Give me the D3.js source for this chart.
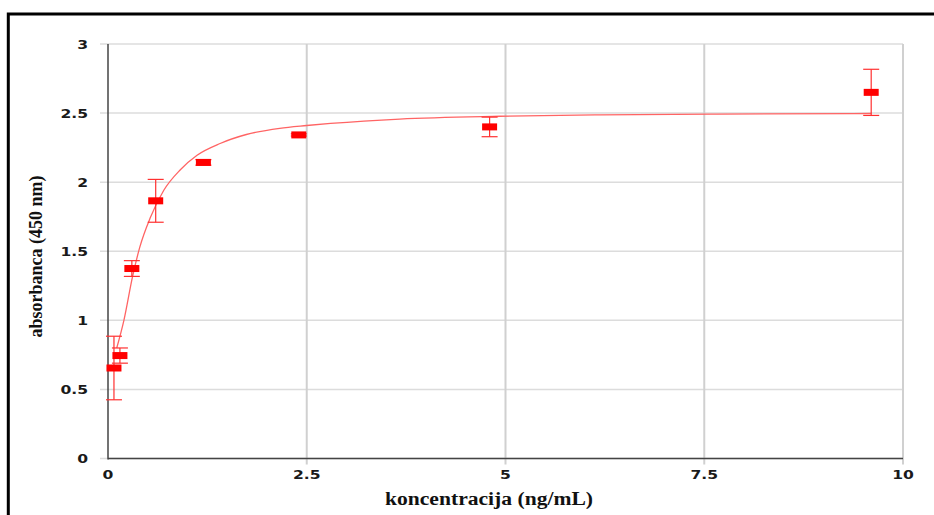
<!DOCTYPE html>
<html>
<head>
<meta charset="utf-8">
<script src="https://cdn.jsdelivr.net/npm/d3@7"></script>
<style>
  body { margin: 0; background: #fff; }
  svg { display: block; }
</style>
</head>
<body>
<div id="chart"></div>
<script>
// concentration series (serial dilution) and measured absorbance
const conc = [0.075, 0.15, 0.3, 0.6, 1.2, 2.4, 4.8, 9.6];
const absorb = [0.655, 0.745, 1.375, 1.865, 2.143, 2.342, 2.40, 2.65];
const errs = [0.23, 0.055, 0.057, 0.155, 0.02, 0.008, 0.071, 0.167];

// fitted curve, points
const curveX = [0.11, 0.2, 0.31, 0.4, 0.53, 0.7, 0.91, 1.12, 1.41, 1.74, 2.16, 2.5, 2.8, 3.67, 4.93, 6.19, 7.66, 9.6];
const curveY = [0.80, 1.00, 1.32, 1.53, 1.74, 1.94, 2.09, 2.195, 2.28, 2.345, 2.39, 2.41, 2.425, 2.457, 2.477, 2.487, 2.493, 2.497];

const xTicks = [0, 2.5, 5, 7.5, 10];
const yTicks = [0, 0.5, 1, 1.5, 2, 2.5, 3];

const width = 934;
const height = 515;
const plot = { left: 108, right: 903, top: 44, bottom: 458.5 };

const svg = d3.select("#chart")
    .append("svg")
    .attr("width", width)
    .attr("height", height);

svg.append("rect")
    .attr("width", width)
    .attr("height", height)
    .attr("fill", "#fff");

// outer black frame
svg.append("rect")
    .attr("x", 8.3)
    .attr("y", 14)
    .attr("width", 950)
    .attr("height", 520)
    .attr("fill", "none")
    .attr("stroke", "#000")
    .attr("stroke-width", 3);

const x = d3.scaleLinear().domain([0, 10]).range([plot.left, plot.right]);
const y = d3.scaleLinear().domain([0, 3]).range([plot.bottom, plot.top]);

// gridlines
svg.append("g")
    .selectAll("line")
    .data(yTicks)
    .join("line")
    .attr("x1", plot.left - 8)
    .attr("x2", plot.right)
    .attr("y1", d => y(d))
    .attr("y2", d => y(d))
    .attr("stroke", "#dcdcdc")
    .attr("stroke-width", 1.5);

svg.append("g")
    .selectAll("line")
    .data(xTicks.slice(1))
    .join("line")
    .attr("x1", d => x(d))
    .attr("x2", d => x(d))
    .attr("y1", plot.top)
    .attr("y2", plot.bottom + 6)
    .attr("stroke", "#d0d0d0")
    .attr("stroke-width", 2);

// axes lines
svg.append("line")
    .attr("x1", plot.left).attr("x2", plot.left)
    .attr("y1", plot.top).attr("y2", plot.bottom + 1)
    .attr("stroke", "#444").attr("stroke-width", 1.5);

svg.append("line")
    .attr("x1", plot.left).attr("x2", plot.right)
    .attr("y1", plot.bottom).attr("y2", plot.bottom)
    .attr("stroke", "#444").attr("stroke-width", 1.5);

// tick labels (stretched wide like the original)
const tickFont = "'DejaVu Sans', Verdana, sans-serif";

svg.append("g")
    .selectAll("text")
    .data(yTicks)
    .join("text")
    .attr("transform", d => `translate(88, ${y(d) + 4.5}) scale(1.3,1)`)
    .attr("text-anchor", "end")
    .attr("font-family", tickFont)
    .attr("font-weight", "bold")
    .attr("font-size", 12)
    .attr("fill", "#1a1a1a")
    .text(d => d);

svg.append("g")
    .selectAll("text")
    .data(xTicks)
    .join("text")
    .attr("transform", d => `translate(${x(d)}, 478.5) scale(1.3,1)`)
    .attr("text-anchor", "middle")
    .attr("font-family", tickFont)
    .attr("font-weight", "bold")
    .attr("font-size", 12)
    .attr("fill", "#1a1a1a")
    .text(d => d);

// axis titles
svg.append("text")
    .attr("x", 385)
    .attr("y", 505)
    .attr("font-family", "'Liberation Serif', 'Times New Roman', serif")
    .attr("font-weight", "bold")
    .attr("font-size", 18)
    .attr("textLength", 208)
    .attr("lengthAdjust", "spacingAndGlyphs")
    .attr("fill", "#111")
    .text("koncentracija (ng/mL)");

svg.append("text")
    .attr("transform", "translate(42, 256.5) rotate(-90)")
    .attr("text-anchor", "middle")
    .attr("font-family", "'Liberation Serif', 'Times New Roman', serif")
    .attr("font-weight", "bold")
    .attr("font-size", 18)
    .attr("fill", "#111")
    .text("absorbanca (450 nm)");

// fitted curve
const line = d3.line()
    .x(d => x(d[0]))
    .y(d => y(d[1]))
    .curve(d3.curveMonotoneX);

svg.append("path")
    .datum(d3.zip(curveX, curveY))
    .attr("d", line)
    .attr("fill", "none")
    .attr("stroke", "#ff6464")
    .attr("stroke-width", 1.3);

// error bars
const pts = conc.map((c, i) => ({ c, a: absorb[i], e: errs[i] }));

const eb = svg.append("g")
    .attr("stroke", "#ff3030")
    .attr("stroke-width", 1.2);

eb.selectAll(".stem")
    .data(pts)
    .join("line")
    .attr("x1", d => x(d.c)).attr("x2", d => x(d.c))
    .attr("y1", d => y(d.a + d.e)).attr("y2", d => y(d.a - d.e));

eb.selectAll(".capTop")
    .data(pts)
    .join("line")
    .attr("class", "capTop")
    .attr("x1", d => x(d.c) - 8).attr("x2", d => x(d.c) + 8)
    .attr("y1", d => y(d.a + d.e)).attr("y2", d => y(d.a + d.e));

eb.selectAll(".capBot")
    .data(pts)
    .join("line")
    .attr("class", "capBot")
    .attr("x1", d => x(d.c) - 8).attr("x2", d => x(d.c) + 8)
    .attr("y1", d => y(d.a - d.e)).attr("y2", d => y(d.a - d.e));

// markers
svg.append("g")
    .selectAll("rect")
    .data(pts)
    .join("rect")
    .attr("x", d => x(d.c) - 7.5)
    .attr("y", d => y(d.a) - 3.5)
    .attr("width", 15)
    .attr("height", 7)
    .attr("fill", "#ff0000");
</script>
</body>
</html>
